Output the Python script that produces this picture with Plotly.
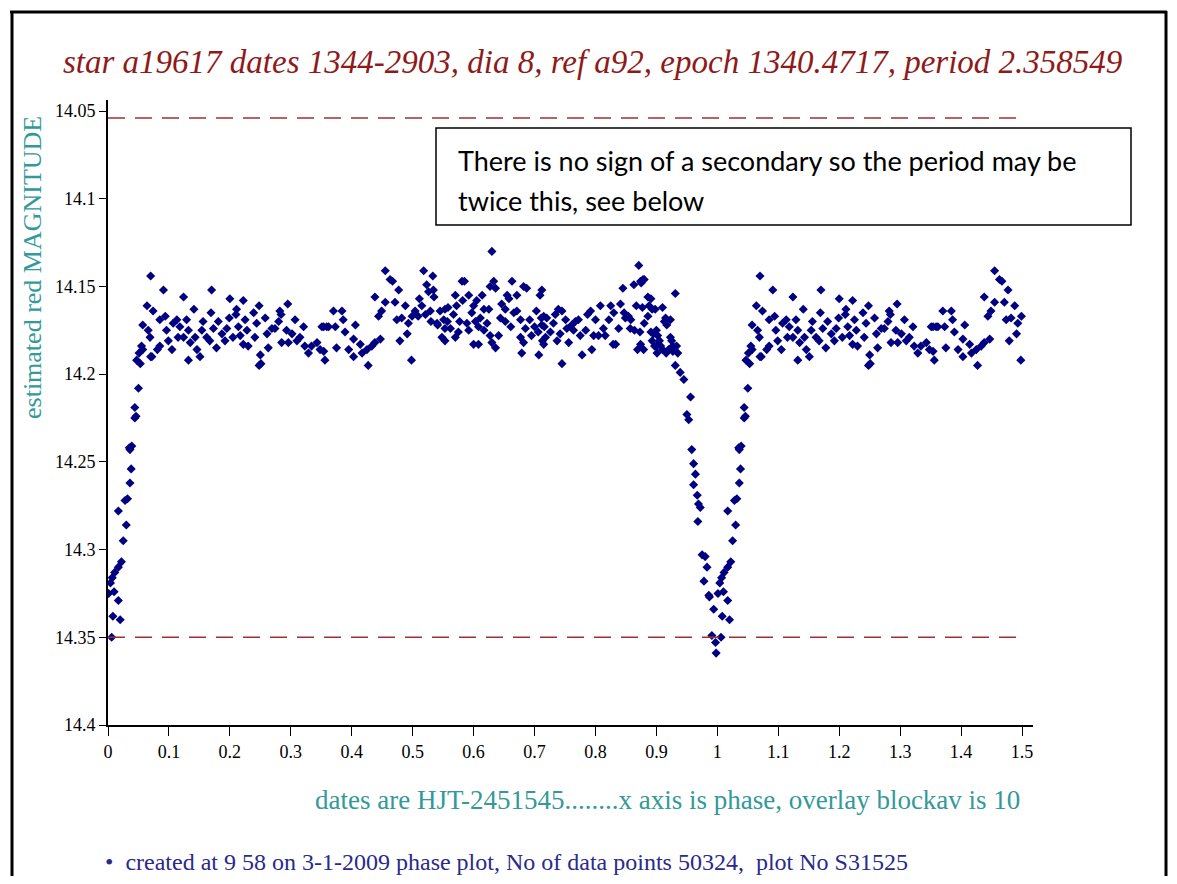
import numpy as np
import plotly.graph_objects as go

# ---------------- data (phase 0..1) ----------------
egress_phase = [0.006, 0.020, 0.008, 0.017, 0.010, 0.001, 0.004, 0.007, 0.011, 0.017,
                0.022, 0.025, 0.030, 0.017, 0.028, 0.032, 0.036, 0.038, 0.036, 0.039,
                0.035, 0.044, 0.046, 0.044, 0.050, 0.047, 0.053, 0.051, 0.057, 0.072]
egress_mag = [14.350, 14.340, 14.338, 14.329, 14.324, 14.325, 14.319, 14.316, 14.313, 14.310,
              14.307, 14.295, 14.286, 14.278, 14.272, 14.271, 14.262, 14.254, 14.243, 14.241,
              14.242, 14.225, 14.224, 14.219, 14.208, 14.192, 14.194, 14.188, 14.186, 14.190]

plateau_a_phase = [0.070, 0.091, 0.064, 0.074, 0.057, 0.066, 0.069, 0.055, 0.070, 0.085,
                   0.081, 0.094, 0.085, 0.096, 0.099, 0.105, 0.107, 0.113, 0.118, 0.115,
                   0.124, 0.129, 0.132, 0.124, 0.135, 0.132, 0.141, 0.143, 0.146, 0.151,
                   0.156, 0.154, 0.162, 0.170, 0.169, 0.173, 0.167, 0.178, 0.181, 0.187,
                   0.192, 0.195, 0.199, 0.200, 0.205, 0.211, 0.210, 0.214, 0.217, 0.222,
                   0.225, 0.228, 0.222, 0.230, 0.239, 0.244, 0.241, 0.248, 0.250, 0.248,
                   0.251, 0.258, 0.261, 0.263, 0.269, 0.274, 0.280, 0.282, 0.284, 0.295,
                   0.285, 0.293, 0.296, 0.302, 0.307, 0.310, 0.315, 0.321, 0.323, 0.329,
                   0.334, 0.343, 0.348, 0.351, 0.356, 0.359]
plateau_a_mag = [14.144, 14.152, 14.161, 14.164, 14.172, 14.175, 14.179, 14.184, 14.190, 14.184,
                 14.186, 14.167, 14.169, 14.175, 14.181, 14.186, 14.171, 14.169, 14.173, 14.179,
                 14.156, 14.169, 14.175, 14.179, 14.182, 14.192, 14.163, 14.179, 14.186, 14.190,
                 14.170, 14.175, 14.179, 14.152, 14.165, 14.174, 14.181, 14.185, 14.170, 14.177,
                 14.181, 14.174, 14.168, 14.157, 14.179, 14.163, 14.166, 14.173, 14.178, 14.158,
                 14.169, 14.175, 14.183, 14.184, 14.165, 14.171, 14.179, 14.161, 14.189, 14.195,
                 14.194, 14.168, 14.177, 14.185, 14.174, 14.174, 14.170, 14.164, 14.166, 14.160,
                 14.182, 14.175, 14.182, 14.177, 14.169, 14.181, 14.179, 14.173, 14.184, 14.188,
                 14.184, 14.182, 14.186, 14.173, 14.192, 14.173]

plateau_b_phase = [0.370, 0.384, 0.386, 0.354, 0.362, 0.373, 0.389, 0.406, 0.403, 0.375,
                   0.354, 0.395, 0.403, 0.414, 0.417, 0.425, 0.427, 0.433, 0.438, 0.447,
                   0.438, 0.444, 0.449, 0.455, 0.455, 0.463, 0.467, 0.477, 0.471, 0.474,
                   0.482, 0.488, 0.479, 0.493, 0.491, 0.499, 0.504, 0.511, 0.515, 0.509,
                   0.518, 0.523, 0.526, 0.533, 0.534, 0.535, 0.529, 0.521, 0.540, 0.530,
                   0.545, 0.553, 0.558, 0.570, 0.581, 0.585, 0.592, 0.582, 0.572, 0.567,
                   0.557, 0.551, 0.541, 0.553, 0.562, 0.548, 0.553, 0.570, 0.575, 0.577,
                   0.589, 0.592, 0.597, 0.600, 0.605, 0.603, 0.608, 0.611, 0.614, 0.617,
                   0.622, 0.625, 0.630, 0.633, 0.636, 0.627, 0.600, 0.608, 0.617, 0.627,
                   0.630, 0.636, 0.641, 0.644, 0.646, 0.652, 0.655, 0.658, 0.663, 0.652,
                   0.661, 0.666, 0.671, 0.671, 0.682, 0.687, 0.677, 0.685, 0.677, 0.682,
                   0.679, 0.692, 0.695, 0.703, 0.700, 0.706, 0.707, 0.709, 0.711, 0.713,
                   0.716, 0.498]
plateau_b_mag = [14.164, 14.164, 14.169, 14.173, 14.173, 14.173, 14.176, 14.172, 14.180, 14.185,
                 14.187, 14.186, 14.190, 14.183, 14.188, 14.186, 14.195, 14.184, 14.182, 14.180,
                 14.156, 14.167, 14.164, 14.141, 14.159, 14.146, 14.147, 14.152, 14.159, 14.169,
                 14.168, 14.161, 14.181, 14.171, 14.177, 14.167, 14.164, 14.157, 14.161, 14.167,
                 14.141, 14.149, 14.153, 14.144, 14.152, 14.156, 14.164, 14.166, 14.171, 14.170,
                 14.164, 14.163, 14.162, 14.155, 14.147, 14.147, 14.155, 14.158, 14.161, 14.166,
                 14.170, 14.169, 14.172, 14.174, 14.174, 14.179, 14.181, 14.179, 14.176, 14.170,
                 14.171, 14.175, 14.165, 14.161, 14.158, 14.170, 14.173, 14.168, 14.155, 14.163,
                 14.171, 14.163, 14.130, 14.147, 14.151, 14.150, 14.183, 14.183, 14.175, 14.178,
                 14.182, 14.185, 14.178, 14.168, 14.160, 14.163, 14.155, 14.157, 14.147, 14.170,
                 14.173, 14.165, 14.164, 14.155, 14.150, 14.151, 14.169, 14.174, 14.179, 14.182,
                 14.188, 14.169, 14.178, 14.164, 14.173, 14.176, 14.189, 14.155, 14.168, 14.181,
                 14.173, 14.192]

plateau_c_phase = [0.712, 0.715, 0.720, 0.712, 0.718, 0.715, 0.726, 0.731, 0.734, 0.739,
                   0.745, 0.737, 0.742, 0.745, 0.751, 0.753, 0.756, 0.761, 0.764, 0.767,
                   0.772, 0.775, 0.778, 0.784, 0.787, 0.792, 0.794, 0.800, 0.797, 0.805,
                   0.808, 0.813, 0.816, 0.822, 0.825, 0.830, 0.833, 0.838, 0.841, 0.845,
                   0.847, 0.849, 0.854, 0.857, 0.858, 0.863, 0.864, 0.867, 0.871, 0.874,
                   0.874, 0.875, 0.878, 0.880, 0.873, 0.877, 0.880, 0.886, 0.891, 0.888,
                   0.886, 0.893, 0.898, 0.891, 0.893, 0.895, 0.897, 0.900, 0.902, 0.905,
                   0.907, 0.901, 0.910, 0.913, 0.915, 0.917, 0.931, 0.923, 0.916, 0.923,
                   0.925, 0.927, 0.933, 0.935, 0.869, 0.829]
plateau_c_mag = [14.152, 14.167, 14.168, 14.172, 14.179, 14.183, 14.176, 14.171, 14.166, 14.163,
                 14.164, 14.181, 14.177, 14.194, 14.169, 14.174, 14.182, 14.172, 14.175, 14.170,
                 14.169, 14.178, 14.189, 14.175, 14.166, 14.164, 14.186, 14.169, 14.178, 14.178,
                 14.161, 14.174, 14.178, 14.169, 14.161, 14.165, 14.183, 14.174, 14.160, 14.151,
                 14.165, 14.168, 14.167, 14.174, 14.169, 14.149, 14.175, 14.161, 14.138, 14.183,
                 14.147, 14.148, 14.146, 14.146, 14.176, 14.162, 14.171, 14.156, 14.157, 14.161,
                 14.167, 14.163, 14.163, 14.176, 14.181, 14.177, 14.184, 14.175, 14.178, 14.181,
                 14.184, 14.188, 14.162, 14.170, 14.168, 14.172, 14.154, 14.169, 14.188, 14.179,
                 14.181, 14.184, 14.184, 14.188, 14.186, 14.183]

ingress_phase = [0.879, 0.900, 0.910, 0.920, 0.927, 0.931, 0.939, 0.945, 0.956, 0.950,
                 0.953, 0.958, 0.961, 0.964, 0.961, 0.967, 0.969, 0.972, 0.968, 0.975,
                 0.980, 0.983, 0.978, 0.986, 0.987, 0.994, 0.991, 0.997, 0.998]
ingress_mag = [14.186, 14.184, 14.186, 14.186, 14.187, 14.195, 14.199, 14.203, 14.213, 14.223,
               14.226, 14.243, 14.251, 14.257, 14.263, 14.269, 14.274, 14.276, 14.284, 14.303,
               14.304, 14.310, 14.318, 14.326, 14.327, 14.334, 14.349, 14.353, 14.359]

x_ticks = [0, 0.1, 0.2, 0.3, 0.4, 0.5, 0.6, 0.7, 0.8, 0.9, 1.0, 1.1, 1.2, 1.3, 1.4, 1.5]
x_tick_text = ["0", "0.1", "0.2", "0.3", "0.4", "0.5", "0.6", "0.7", "0.8", "0.9",
               "1", "1.1", "1.2", "1.3", "1.4", "1.5"]
y_ticks = [14.05, 14.1, 14.15, 14.2, 14.25, 14.3, 14.35, 14.4]
y_tick_text = ["14.05", "14.1", "14.15", "14.2", "14.25", "14.3", "14.35", "14.4"]
limit_lines = [14.054, 14.35]

title_text = "star a19617 dates 1344-2903, dia 8, ref a92, epoch 1340.4717, period 2.358549"
ylabel_text = "estimated red MAGNITUDE"
xlabel_text = "dates are HJT-2451545........x axis is phase, overlay blockav is 10"
footer_text = "•  created at 9 58 on 3-1-2009 phase plot, No of data points 50324,  plot No S31525"
note_lines = ["There is no sign of a secondary so the period may be", "twice this, see below"]

# ---------------- build phase-folded overlay (0..1 plus repeat up to 1.5) --------
phase = np.array(egress_phase + plateau_a_phase + plateau_b_phase + plateau_c_phase + ingress_phase)
mag = np.array(egress_mag + plateau_a_mag + plateau_b_mag + plateau_c_mag + ingress_mag)
rep = phase <= 0.5
x_all = np.concatenate([phase, phase[rep] + 1.0])
y_all = np.concatenate([mag, mag[rep]])

# ---------------- layout geometry ----------------
W, H = 1161, 868
OFF = 8
L, R, T, B = 100, 136, 92, 151
PW = W - L - R
PH = H - T - B


def px(xp):
    return (xp - OFF - L) / PW


def py(yp):
    return 1 - (yp - OFF - T) / PH


SERIF = "Liberation Serif, Times New Roman, serif"
TEAL = "#339999"
DARKRED = "#8E1A1A"
NAVY = "#000080"

fig = go.Figure()
fig.add_trace(go.Scatter(
    x=x_all, y=y_all, mode="markers",
    marker=dict(symbol="diamond", size=7, color=NAVY, line=dict(width=0)),
    hoverinfo="skip", showlegend=False,
))

shapes = []
for lv in limit_lines:
    shapes.append(dict(type="line", xref="x", yref="y", x0=0, x1=1.5, y0=lv, y1=lv,
                       line=dict(color="#A03030", width=1.5, dash="17px,10px")))
# note box
shapes.append(dict(type="rect", xref="paper", yref="paper",
                   x0=px(436), x1=px(1131), y0=py(225), y1=py(128),
                   line=dict(color="black", width=1.5), fillcolor="white", layer="above"))
# frame
shapes.append(dict(type="line", xref="paper", yref="paper", x0=px(12), x1=px(12),
                   y0=py(11), y1=py(900), line=dict(color="black", width=3)))
shapes.append(dict(type="line", xref="paper", yref="paper", x0=px(10), x1=px(1167),
                   y0=py(12), y1=py(12), line=dict(color="black", width=3)))
shapes.append(dict(type="line", xref="paper", yref="paper", x0=px(1166), x1=px(1166),
                   y0=py(11), y1=py(900), line=dict(color="black", width=3)))

annotations = [
    dict(text="<i>" + title_text + "</i>", x=px(592), y=py(62), xref="paper", yref="paper",
         xanchor="center", yanchor="middle", showarrow=False,
         font=dict(family=SERIF, size=33, color=DARKRED)),
    dict(text=ylabel_text, x=px(33), y=py(268), xref="paper", yref="paper", textangle=-90,
         xanchor="center", yanchor="middle", showarrow=False,
         font=dict(family=SERIF, size=26, color=TEAL)),
    dict(text=xlabel_text, x=px(1022), y=py(800), xref="paper", yref="paper",
         xanchor="right", yanchor="middle", showarrow=False,
         font=dict(family=SERIF, size=27, color=TEAL)),
    dict(text=footer_text, x=px(103), y=py(862), xref="paper", yref="paper",
         xanchor="left", yanchor="middle", showarrow=False,
         font=dict(family=SERIF, size=24, color="#2A2A8A")),
]
for i, line in enumerate(note_lines):
    annotations.append(dict(text=line, x=px(456), y=py(160 + 40 * i), xref="paper", yref="paper",
                            xanchor="left", yanchor="middle", showarrow=False,
                            font=dict(family="Lato, Carlito, sans-serif", size=27, color="black")))

fig.update_layout(
    width=W, height=H,
    margin=dict(l=L, r=R, t=T, b=B, pad=0),
    paper_bgcolor="white", plot_bgcolor="white",
    shapes=shapes, annotations=annotations,
    xaxis=dict(range=[0, 1.518], tickvals=x_ticks, ticktext=x_tick_text,
               showline=True, linecolor="black", linewidth=2, showgrid=False, zeroline=False,
               ticks="outside", ticklen=9, tickwidth=1, tickcolor="black",
               tickfont=dict(family=SERIF, size=18, color="black")),
    yaxis=dict(range=[14.4, 14.0437], tickvals=y_ticks, ticktext=y_tick_text,
               showline=True, linecolor="black", linewidth=2, showgrid=False, zeroline=False,
               ticks="outside", ticklen=7, tickwidth=1, tickcolor="black",
               tickfont=dict(family=SERIF, size=18, color="black")),
)

fig.write_html("out.html")
